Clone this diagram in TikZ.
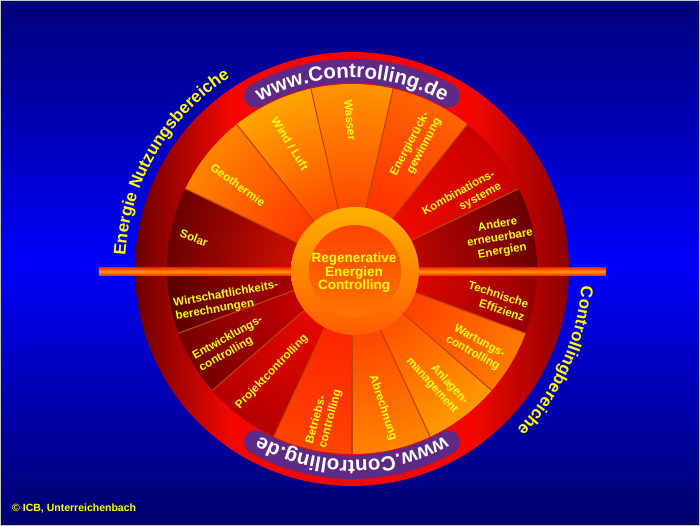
\documentclass[tikz,border=0pt]{standalone}
\usepackage{fontspec}
\setmainfont{Liberation Sans}
\usetikzlibrary{decorations.text}

\definecolor{bgtop}{HTML}{000078}
\definecolor{bgmid}{HTML}{0000FA}
\definecolor{bgbot}{HTML}{00006C}
\definecolor{ringdark}{HTML}{6A0000}
\definecolor{ringred}{HTML}{F20800}
\definecolor{ringdarkR}{HTML}{8A0000}
\definecolor{divcol}{HTML}{C04400}
\definecolor{barred}{HTML}{FF2A00}
\definecolor{barorange}{HTML}{FF9C00}
\definecolor{wwwpurple}{HTML}{5E2A86}
\definecolor{lblyellow}{HTML}{FFFF00}
\definecolor{cringtop}{HTML}{FFB000}
\definecolor{cringbot}{HTML}{FF5C00}
\definecolor{cintop}{HTML}{FF4400}
\definecolor{cinbot}{HTML}{FF7400}
% sector colours
\definecolor{solI}{HTML}{FF1400}\definecolor{solO}{HTML}{6A0000}
\definecolor{geoI}{HTML}{FF1400}\definecolor{geoO}{HTML}{FF8400}
\definecolor{winI}{HTML}{FF1C00}\definecolor{winO}{HTML}{FFA600}
\definecolor{wasI}{HTML}{FF2400}\definecolor{wasO}{HTML}{FF9400}
\definecolor{eneI}{HTML}{FF1800}\definecolor{eneO}{HTML}{FF6400}
\definecolor{komI}{HTML}{FF1000}\definecolor{komO}{HTML}{C80000}
\definecolor{andI}{HTML}{E80800}\definecolor{andO}{HTML}{680000}
\definecolor{wirI}{HTML}{D00000}\definecolor{wirO}{HTML}{5A0000}
\definecolor{entI}{HTML}{F00000}\definecolor{entO}{HTML}{740000}
\definecolor{proI}{HTML}{FF0A00}\definecolor{proO}{HTML}{B40000}
\definecolor{betI}{HTML}{FF1400}\definecolor{betO}{HTML}{FF4400}
\definecolor{abrI}{HTML}{FF2400}\definecolor{abrO}{HTML}{FF8400}
\definecolor{anlI}{HTML}{FF2800}\definecolor{anlO}{HTML}{FF9A00}
\definecolor{warI}{HTML}{FF2000}\definecolor{warO}{HTML}{FF7A00}
\definecolor{tecI}{HTML}{FF0A00}\definecolor{tecO}{HTML}{960000}

\pgfdeclarehorizontalshading{ringh}{100bp}{color(0bp)=(ringdark); color(25bp)=(ringdark); color(36bp)=(ringred); color(64bp)=(ringred); color(75bp)=(ringdarkR); color(100bp)=(ringdarkR)}

\tikzset{
  lbl/.style={font=\bfseries\fontsize{11.5}{13.5}\selectfont, text=lblyellow, inner sep=0pt},
  ctext/.style={font=\bfseries\fontsize{13.5}{13.5}\selectfont, text=lblyellow, inner sep=0pt, align=center},
  divline/.style={draw=divcol, line width=1.1pt},
  wwwband/.style={draw=wwwpurple, line width=24pt, line cap=round},
}

\newcommand{\curvefont}{\bfseries\fontsize{17}{17}\selectfont\color{lblyellow}}
\newcommand{\wwwfont}{\bfseries\fontsize{20.5}{20.5}\selectfont\color{white}}

\newcommand{\sector}[4]{%
  \begin{scope}
    \clip (0,0) -- (#1:186pt) arc[start angle=#1, end angle=#2, radius=186pt] -- cycle;
    \shade[inner color=#3, outer color=#4] (0,0) circle (185pt);
  \end{scope}}

\newcommand{\seglbl}[5]{%
  \node[lbl, rotate=#3, align=#4] (#1) at (#2) {#5};}

\begin{document}
\begin{tikzpicture}[x=1pt,y=1pt]
\useasboundingbox (-352,-257) rectangle (348,269);
% background
\shade[top color=bgtop, bottom color=bgbot, middle color=bgmid] (-352,-257) rectangle (348,269);
\draw[gray!45, line width=1.2pt] (-351.4,-256.4) rectangle (347.4,268.4);

% outer ring
\shade[shading=ringh] (0,0) circle (217pt);

% sectors, upper half
\sector{154.286}{180}{solI}{solO}
\sector{128.571}{154.286}{geoI}{geoO}
\sector{102.857}{128.571}{winI}{winO}
\sector{77.143}{102.857}{wasI}{wasO}
\sector{51.429}{77.143}{eneI}{eneO}
\sector{25.714}{51.429}{komI}{komO}
\sector{0}{25.714}{andI}{andO}
% sectors, lower half
\sector{-180}{-159.7}{wirI}{wirO}
\sector{-159.7}{-139}{entI}{entO}
\sector{-139}{-115}{proI}{proO}
\sector{-115}{-90}{betI}{betO}
\sector{-90}{-65}{abrI}{abrO}
\sector{-65}{-41}{anlI}{anlO}
\sector{-41}{-20.3}{warI}{warO}
\sector{-20.3}{0}{tecI}{tecO}

% dividing lines
\foreach \a in {25.714,51.429,77.143,102.857,128.571,154.286,-20.3,-41,-65,-90,-115,-139,-159.7}
  \draw[divline] (\a:60pt) -- (\a:185pt);

% horizontal bar
\shade[top color=barred, bottom color=barred, middle color=barorange] (-253,-6.5) rectangle (254,1.5);

% www bands
\draw[wwwband] (119:198pt) arc[start angle=119, end angle=61, radius=198pt];
\draw[wwwband] (-61:198pt) arc[start angle=-61, end angle=-119, radius=198pt];
\path[decorate, decoration={text along path, text={|\wwwfont|www.Controlling.de}, text align=center}]
  (150:191pt) arc[start angle=150, end angle=30, radius=191pt];
\path[decorate, decoration={text along path, text={|\wwwfont|www.Controlling.de}, text align=center}]
  (-30:191pt) arc[start angle=-30, end angle=-150, radius=191pt];

% centre circle
\shade[top color=cringtop, bottom color=cringbot] (3,-2) circle (64pt);
\shade[top color=cintop, bottom color=cinbot] (3,-2) circle (46pt);

% labels upper half
\seglbl{solar}{-158,31}{-20}{center}{Solar}
\seglbl{geo}{-114,84}{-36}{center}{Geothermie}
\seglbl{wind}{-62,125}{-58}{center}{Wind / Luft}
\seglbl{wasser}{-2,149}{-84}{center}{Wasser}
\seglbl{energ}{64,122}{62}{right}{Energierück-\\gewinnung}
\seglbl{kombi}{110,70}{29}{right}{Kombinations-\\systeme}
\seglbl{andere}{148,31}{10}{center}{Andere\\erneuerbare\\Energien}
% labels lower half
\seglbl{wirt}{-125,-32}{10}{left}{Wirtschaftlichkeits-\\berechnungen}
\seglbl{entw}{-121,-75}{29}{left}{Entwicklungs-\\controlling}
\seglbl{proj}{-80,-103}{46}{center}{Projektcontrolling}
\seglbl{betr}{-28,-148}{75}{left}{Betriebs-\\controlling}
\seglbl{abr}{31,-139}{-72}{center}{Abrechnung}
\seglbl{anl}{85,-112}{-48}{right}{Anlagen-\\management}
\seglbl{wart}{124,-78.5}{-29}{center}{Wartungs-\\controlling}
\seglbl{tech}{144.5,-32}{-18}{right}{Technische\\Effizienz}

% centre text
\node[ctext] (ctr) at (2,-4) {Regenerative\\Energien\\Controlling};

% curved outer texts
\path[decorate, decoration={text along path, text={|\curvefont|Energie Nutzungsbereiche}, text align=center}]
  (205:227pt) arc[start angle=205, end angle=94, radius=227pt];
\path[decorate, decoration={text along path, text={|\curvefont|Controllingbereiche}, text align=center}]
  (20:230pt) arc[start angle=20, end angle=-68.4, radius=230pt];

% copyright
\node[anchor=west, inner sep=0pt, font=\bfseries\fontsize{10.5}{12}\selectfont, text=lblyellow] (copy) at (-340,-240) {© ICB, Unterreichenbach};
\end{tikzpicture}
\end{document}
